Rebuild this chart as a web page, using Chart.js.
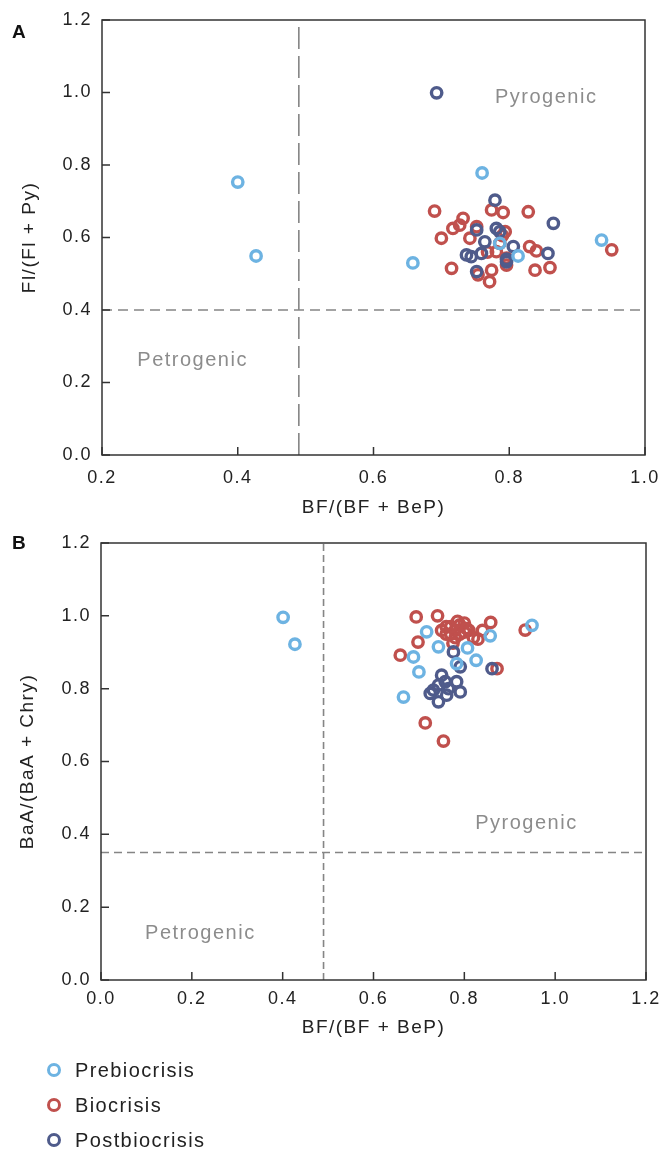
<!DOCTYPE html>
<html>
<head>
<meta charset="utf-8">
<script src="https://cdn.jsdelivr.net/npm/chart.js@4.4.1/dist/chart.umd.min.js"></script>
<style>
  body { margin: 0; background: #fff; font-family: "Liberation Sans", Arial, sans-serif; }
  #wrap { position: relative; width: 661px; height: 1151px; }
  .box { position: absolute; left: 0; width: 661px; height: 530px; }
  .panel { position: absolute; left: 12px; font-weight: bold; font-size: 19px; line-height: 19px; color: #111; }
  .item { position: absolute; left: 47px; height: 20px; display: flex; align-items: center;
          font-size: 20px; letter-spacing: 1.4px; color: #222; }
  .item i { display: inline-block; box-sizing: border-box; width: 14px; height: 14px;
            border: 3.5px solid; border-radius: 50%; margin-right: 14px; }
</style>
</head>
<body>
<div id="wrap">
  <div class="box" style="top:0"><canvas id="chartA"></canvas></div>
  <div class="box" style="top:530px"><canvas id="chartB"></canvas></div>
  <div class="panel" style="top:22px">A</div>
  <div class="panel" style="top:533px">B</div>
  <div class="item" style="top:1060px"><i style="border-color:#6db3e2"></i>Prebiocrisis</div>
  <div class="item" style="top:1095px"><i style="border-color:#c0504d"></i>Biocrisis</div>
  <div class="item" style="top:1130px"><i style="border-color:#4f5b8b"></i>Postbiocrisis</div>
</div>
<script>
// series names and colours
const seriesNames = ['Prebiocrisis', 'Postbiocrisis', 'Biocrisis'];
const seriesColors = ['#6db3e2', '#4f5b8b', '#c0504d'];

// panel A: BF/(BF+BeP) vs Fl/(Fl+Py)
const preA = [[0.400,0.753],[0.427,0.549],[0.658,0.530],[0.760,0.778],[0.786,0.584],[0.813,0.549],[0.936,0.593]];
const postA = [[0.693,0.999],[0.779,0.703],[0.865,0.639],[0.752,0.621],[0.781,0.625],[0.786,0.616],[0.764,0.588],
  [0.806,0.575],[0.857,0.556],[0.737,0.552],[0.744,0.547],[0.759,0.556],[0.796,0.533],[0.752,0.506],[0.796,0.540]];
const bioA = [[0.690,0.673],[0.732,0.653],[0.717,0.625],[0.727,0.634],[0.700,0.598],[0.742,0.598],[0.752,0.630],
  [0.774,0.676],[0.791,0.669],[0.828,0.671],[0.794,0.616],[0.786,0.584],[0.830,0.575],[0.840,0.563],[0.715,0.515],
  [0.774,0.510],[0.796,0.524],[0.838,0.510],[0.860,0.517],[0.754,0.497],[0.771,0.478],[0.781,0.561],[0.796,0.543],
  [0.951,0.566],[0.790,0.605],[0.768,0.560]];

// panel B: BF/(BF+BeP) vs BaA/(BaA+Chry)
const preB = [[0.401,0.996],[0.427,0.922],[0.717,0.956],[0.743,0.915],[0.688,0.887],[0.700,0.846],[0.666,0.777],
  [0.783,0.869],[0.807,0.912],[0.826,0.878],[0.857,0.945],[0.949,0.974]];
const postB = [[0.776,0.901],[0.791,0.860],[0.861,0.855],[0.750,0.837],[0.758,0.819],[0.732,0.796],[0.725,0.787],
  [0.743,0.810],[0.765,0.800],[0.783,0.819],[0.791,0.791],[0.743,0.764],[0.761,0.782]];
const bioB = [[0.694,0.997],[0.741,1.000],[0.698,0.928],[0.659,0.892],[0.858,0.982],[0.934,0.961],[0.872,0.855],
  [0.714,0.706],[0.754,0.656],[0.830,0.936],[0.750,0.960],[0.760,0.970],[0.770,0.950],[0.780,0.960],[0.790,0.975],
  [0.800,0.980],[0.780,0.940],[0.760,0.950],[0.810,0.960],[0.790,0.950],[0.770,0.970],[0.800,0.955],[0.820,0.940],
  [0.840,0.960],[0.785,0.985],[0.805,0.965],[0.775,0.925]];

// threshold lines [x, y]
const splitA = [0.49, 0.40];
const splitB = [0.49, 0.35];

const fontFam = '"Liberation Sans", Arial, sans-serif';

const framePlugin = {
  id: 'frame',
  beforeDraw(chart) {
    chart.ctx.letterSpacing = '1.5px';
  },
  beforeDatasetsDraw(chart, args, opts) {
    const { ctx, scales: { x, y } } = chart;
    ctx.save();
    ctx.fillStyle = '#8c8c8c';
    ctx.font = '20px ' + fontFam;
    ctx.textBaseline = 'middle';
    ctx.textAlign = 'left';
    opts.labels.forEach(l => ctx.fillText(l.text, x.getPixelForValue(l.x), y.getPixelForValue(l.y)));
    ctx.restore();
  },
  afterDatasetsDraw(chart) {
    const { ctx, chartArea: a, scales: { x, y } } = chart;
    ctx.save();
    ctx.strokeStyle = '#333';
    ctx.lineWidth = 1.5;
    ctx.strokeRect(a.left, a.top, a.right - a.left, a.bottom - a.top);
    ctx.beginPath();
    x.ticks.forEach(t => {
      const px = x.getPixelForValue(t.value);
      ctx.moveTo(px, a.bottom); ctx.lineTo(px, a.bottom - 8);
    });
    y.ticks.forEach(t => {
      const py = y.getPixelForValue(t.value);
      ctx.moveTo(a.left, py); ctx.lineTo(a.left + 8, py);
    });
    ctx.stroke();
    ctx.restore();
  }
};

function pts(arr) {
  return arr.map(p => ({ x: p[0], y: p[1] }));
}

function makeChart(id, cfg) {
  const series = [cfg.pre, cfg.post, cfg.bio];
  const datasets = series.map((s, i) => ({
    label: seriesNames[i],
    data: pts(s),
    pointBorderColor: seriesColors[i],
    pointBackgroundColor: 'rgba(255,255,255,0)',
    pointBorderWidth: 3.4,
    pointRadius: 5.2,
    order: i
  }));
  datasets.push({
    data: [{ x: cfg.split[0], y: cfg.yMin }, { x: cfg.split[0], y: cfg.yMax }],
    showLine: true, pointRadius: 0, borderColor: '#858585', borderWidth: 1.6,
    borderDash: cfg.dashV, order: 10
  });
  datasets.push({
    data: [{ x: cfg.xMin, y: cfg.split[1] }, { x: cfg.xMax, y: cfg.split[1] }],
    showLine: true, pointRadius: 0, borderColor: '#858585', borderWidth: 1.6,
    borderDash: cfg.dashH, order: 11
  });

  return new Chart(document.getElementById(id), {
    type: 'scatter',
    data: { datasets },
    plugins: [framePlugin],
    options: {
      responsive: true,
      maintainAspectRatio: false,
      animation: false,
      layout: { padding: cfg.padding },
      plugins: {
        legend: { display: false },
        tooltip: { enabled: false },
        frame: { labels: cfg.labels }
      },
      scales: {
        x: {
          type: 'linear', min: cfg.xMin, max: cfg.xMax,
          grid: { display: false, drawTicks: false },
          border: { display: false },
          ticks: { stepSize: 0.2, padding: cfg.xTickPad, color: '#222', font: { size: 18, family: fontFam },
                   callback: v => v.toFixed(1), maxRotation: 0 },
          title: { display: true, text: 'BF/(BF + BeP)', color: '#222', font: { size: 19, family: fontFam },
                   padding: { top: 0, bottom: cfg.xTitlePad } },
          afterFit: s => { s.height = cfg.xHeight; s.paddingLeft = 0; s.paddingRight = 0; }
        },
        y: {
          type: 'linear', min: cfg.yMin, max: cfg.yMax,
          grid: { display: false, drawTicks: false },
          border: { display: false },
          ticks: { stepSize: 0.2, padding: 10, color: '#222', font: { size: 18, family: fontFam },
                   callback: v => v.toFixed(1) },
          title: { display: true, text: cfg.yTitle, color: '#222', font: { size: 19, family: fontFam },
                   padding: { top: cfg.yTitlePad, bottom: 0 } },
          afterFit: s => { s.width = cfg.yWidth; s.paddingTop = 0; s.paddingBottom = 0; }
        }
      }
    }
  });
}

makeChart('chartA', {
  pre: preA, post: postA, bio: bioA, split: splitA,
  xMin: 0.2, xMax: 1.0, yMin: 0, yMax: 1.2,
  dashV: [22, 7], dashH: [10, 6],
  padding: { top: 20, right: 16, bottom: 0, left: 0 },
  xHeight: 75, yWidth: 102, xTickPad: 12, xTitlePad: 11, yTitlePad: 18,
  yTitle: 'Fl/(Fl + Py)',
  labels: [{ text: 'Pyrogenic', x: 0.779, y: 0.985 }, { text: 'Petrogenic', x: 0.252, y: 0.262 }]
});

makeChart('chartB', {
  pre: preB, post: postB, bio: bioB, split: splitB,
  xMin: 0, xMax: 1.2, yMin: 0, yMax: 1.2,
  dashV: [7, 4], dashH: [8, 5],
  padding: { top: 13, right: 15, bottom: 0, left: 0 },
  xHeight: 80, yWidth: 101, xTickPad: 8, xTitlePad: 21, yTitlePad: 16,
  yTitle: 'BaA/(BaA + Chry)',
  labels: [{ text: 'Pyrogenic', x: 0.824, y: 0.431 }, { text: 'Petrogenic', x: 0.097, y: 0.129 }]
});
</script>
</body>
</html>
